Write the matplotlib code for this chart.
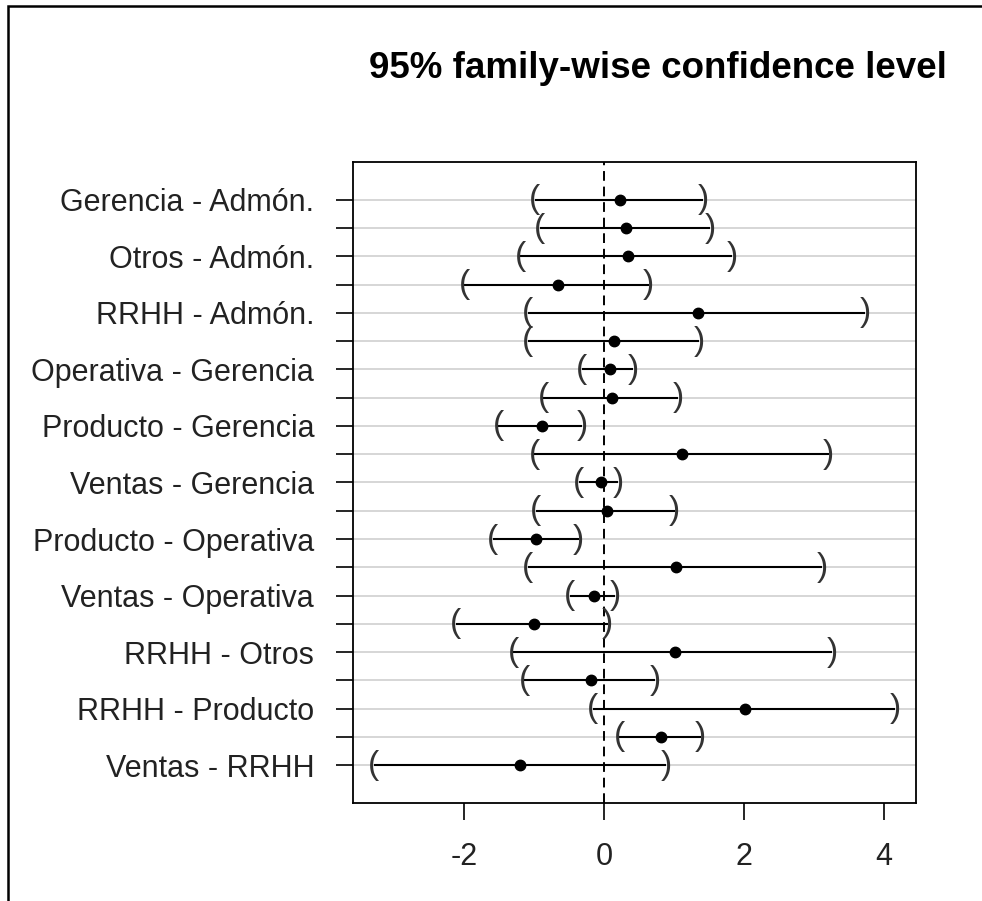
import numpy as np
import matplotlib.pyplot as plt
from matplotlib.patches import Rectangle

plt.rcParams['font.family'] = ['Liberation Sans', 'DejaVu Sans']

# Comparaciones Tukey HSD (orden de R)
comparisons = [
    "Gerencia - Admón.", "Operativa - Admón.", "Otros - Admón.", "Producto - Admón.",
    "RRHH - Admón.", "Ventas - Admón.", "Operativa - Gerencia", "Otros - Gerencia",
    "Producto - Gerencia", "RRHH - Gerencia", "Ventas - Gerencia", "Otros - Operativa",
    "Producto - Operativa", "RRHH - Operativa", "Ventas - Operativa", "Producto - Otros",
    "RRHH - Otros", "Ventas - Otros", "RRHH - Producto", "Ventas - Producto", "Ventas - RRHH",
]
diff = [0.23, 0.31, 0.34, -0.66, 1.34, 0.14, 0.09, 0.12, -0.89, 1.12, -0.05,
        0.04, -0.97, 1.03, -0.14, -1.00, 1.01, -0.19, 2.01, 0.81, -1.20]
lwr = [-0.99, -0.92, -1.20, -2.00, -1.09, -1.09, -0.32, -0.87, -1.51, -1.00, -0.36,
       -0.98, -1.59, -1.09, -0.49, -2.12, -1.30, -1.14, -0.16, 0.22, -3.29]
upr = [1.42, 1.52, 1.83, 0.64, 3.73, 1.36, 0.42, 1.06, -0.31, 3.21, 0.20,
       1.01, -0.36, 3.12, 0.16, 0.05, 3.26, 0.73, 4.16, 1.38, 0.89]

xticks = [-2, 0, 2, 4]
title = "95% family-wise confidence level"

fig = plt.figure(figsize=(9.82, 9.01), dpi=100)
ax = fig.add_axes([0.3595, 0.1088, 0.5733, 0.7114])

n = len(comparisons)
yvals = np.arange(1, n + 1)

# líneas guía
for y in yvals:
    ax.axhline(y, color='#d0d0d0', lw=1.2, zorder=0)
ax.axvline(0, color='black', lw=1.4, ls=(0, (5, 3)), zorder=1)

ax.hlines(yvals, lwr, upr, color='black', lw=1.5, zorder=2)
ax.plot(diff, yvals, 'o', color='black', ms=7.5, zorder=3)
for y, lo, hi in zip(yvals, lwr, upr):
    ax.text(lo, y, "(", ha='center', va='center', fontsize=24, color='#333333', zorder=3)
    ax.text(hi, y, ")", ha='center', va='center', fontsize=24, color='#333333', zorder=3)

rng = max(upr) - min(lwr)
ax.set_xlim(min(lwr) - 0.04 * rng, max(upr) + 0.04 * rng)
ax.set_ylim(n + 0.5 + 0.04 * n, 0.5 - 0.04 * n)

ax.set_yticks(yvals)
ax.set_yticklabels([c if i % 2 == 0 else "" for i, c in enumerate(comparisons)])
ax.set_xticks(xticks)
ax.set_xticklabels([str(t) for t in xticks])
ax.tick_params(axis='both', length=12, width=1.2, labelsize=22, pad=16, colors='black',
               labelcolor='#222222')
for s in ax.spines.values():
    s.set_linewidth(1.3)

fig.text(0.670, 0.9235, title, ha='center', va='center', fontsize=26.5, fontweight='bold')

# marco exterior
fig.patches.append(Rectangle((0.008, -0.05), 1.05, 1.0433, transform=fig.transFigure,
                             fill=False, lw=1.8, edgecolor='black'))

fig.savefig("out.png", dpi=100)
